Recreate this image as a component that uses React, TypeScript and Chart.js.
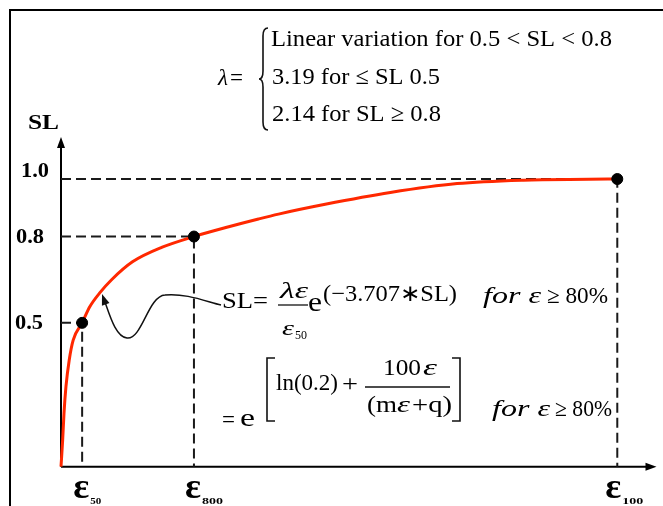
import React, { useEffect, useRef } from "react";
import { Chart, registerables } from "chart.js";
Chart.register(...registerables);

const SERIF = '"Liberation Serif", "Times New Roman", serif';

// Strain positions (as % of ε100) and their labels
const strainTicks = [3.8, 23.9, 100];
const strainSubs = ["50", "800", "100"];
// Stress level ticks
const slTicks = [0.5, 0.8, 1.0];
const slTickLabels = ["0.5", "0.8", "1.0"];

// Curve
const curveStrain = [0, 0.3, 0.54, 0.89, 1.48, 2.19, 3.8, 5.17, 6.96, 9.05, 12.85, 18.2, 23.9, 30.15, 35.5, 39.1, 47.5, 59.2, 71.2, 83.1, 94.9, 100];
const curveSL = [0, 0.093, 0.186, 0.278, 0.371, 0.44, 0.5, 0.556, 0.604, 0.649, 0.712, 0.763, 0.8, 0.834, 0.861, 0.878, 0.912, 0.953, 0.984, 0.996, 0.999, 1.0];

function fitText(ctx: CanvasRenderingContext2D, s: string, x: number, y: number, font: string, w?: number, baseline: CanvasTextBaseline = "middle") {
  ctx.save();
  ctx.font = font;
  ctx.textAlign = "left";
  ctx.textBaseline = baseline;
  ctx.fillStyle = "#000";
  const m = ctx.measureText(s).width;
  ctx.translate(x, y);
  if (w && m > 0) ctx.scale(w / m, 1);
  ctx.fillText(s, 0, 0);
  ctx.restore();
}

const decorPlugin = {
  id: "decor",
  beforeDatasetsDraw(chart: any) {
    const ctx: CanvasRenderingContext2D = chart.ctx;
    const xs = chart.scales.x;
    const ys = chart.scales.y;
    const x0 = xs.getPixelForValue(0);
    const y0 = ys.getPixelForValue(0);
    const top = chart.chartArea.top;
    const right = chart.chartArea.right;
    ctx.save();
    // frame
    ctx.strokeStyle = "#000";
    ctx.lineWidth = 2;
    ctx.beginPath();
    ctx.moveTo(10, 506);
    ctx.lineTo(10, 10);
    ctx.lineTo(663, 10);
    ctx.stroke();
    // axes
    ctx.lineWidth = 2;
    ctx.beginPath();
    ctx.moveTo(x0, y0);
    ctx.lineTo(x0, top + 8);
    ctx.moveTo(x0, y0);
    ctx.lineTo(right - 8, y0);
    ctx.stroke();
    ctx.fillStyle = "#000";
    ctx.beginPath();
    ctx.moveTo(x0, top);
    ctx.lineTo(x0 - 4, top + 11);
    ctx.lineTo(x0 + 4, top + 11);
    ctx.closePath();
    ctx.fill();
    ctx.beginPath();
    ctx.moveTo(right, y0);
    ctx.lineTo(right - 11, y0 - 4);
    ctx.lineTo(right - 11, y0 + 4);
    ctx.closePath();
    ctx.fill();
    ctx.restore();
  },
  afterDraw(chart: any) {
    const ctx: CanvasRenderingContext2D = chart.ctx;
    const xs = chart.scales.x;
    const ys = chart.scales.y;
    ctx.save();
    // y tick labels
    const yOff = [1, 1, -7];
    const yLeft = [15, 16, 21];
    slTicks.forEach((v, i) => {
      fitText(ctx, slTickLabels[i], yLeft[i], ys.getPixelForValue(v) + yOff[i], `bold 20px ${SERIF}`, 28);
    });
    fitText(ctx, "SL", 28, 123, `bold 22px ${SERIF}`, 31);
    // x tick labels
    strainTicks.forEach((t, i) => {
      const px = xs.getPixelForValue(t);
      const gx = px - (i === 2 ? 12 : 9);
      fitText(ctx, "ε", gx, 498, `bold 36px ${SERIF}`, 16, "alphabetic");
      fitText(ctx, strainSubs[i], gx + 17, 504, `bold 9px ${SERIF}`, i === 0 ? 11 : 21, "alphabetic");
    });

    // lambda definition
    fitText(ctx, "λ", 218, 79, `italic 24px ${SERIF}`, 10);
    fitText(ctx, "=", 230, 79, `24px ${SERIF}`, 13);
    fitText(ctx, "Linear variation for 0.5 < SL < 0.8", 271, 40, `24px ${SERIF}`, 341);
    fitText(ctx, "3.19 for ≤ SL 0.5", 272, 78, `24px ${SERIF}`, 168);
    fitText(ctx, "2.14 for SL ≥ 0.8", 272, 115, `24px ${SERIF}`, 169);
    ctx.strokeStyle = "#111";
    ctx.lineWidth = 1.6;
    ctx.beginPath();
    ctx.moveTo(268, 28);
    ctx.quadraticCurveTo(263, 28, 263, 36);
    ctx.lineTo(263, 71);
    ctx.quadraticCurveTo(263, 79, 259, 79);
    ctx.quadraticCurveTo(263, 79, 263, 87);
    ctx.lineTo(263, 122);
    ctx.quadraticCurveTo(263, 130, 268, 130);
    ctx.stroke();

    // formula 1
    fitText(ctx, "SL=", 222, 302, `23px ${SERIF}`, 46);
    fitText(ctx, "λε", 280, 292, `italic 23px ${SERIF}`, 28);
    ctx.lineWidth = 1.3;
    ctx.beginPath();
    ctx.moveTo(278, 305);
    ctx.lineTo(308, 305);
    ctx.stroke();
    fitText(ctx, "ε", 282, 329, `italic 21px ${SERIF}`, 12);
    fitText(ctx, "50", 295, 336, `13px ${SERIF}`, 12);
    fitText(ctx, "e", 308, 304, `27px ${SERIF}`, 14);
    fitText(ctx, "(−3.707∗SL)", 323, 295, `23px ${SERIF}`, 134);
    fitText(ctx, "for ε", 483, 297, `italic 23px ${SERIF}`, 58);
    fitText(ctx, "≥ 80%", 547, 297, `23px ${SERIF}`, 61);

    // formula 2
    fitText(ctx, "=", 222, 421, `23px ${SERIF}`, 13);
    fitText(ctx, "e", 240, 419, `26px ${SERIF}`, 15);
    ctx.lineWidth = 1.6;
    ctx.beginPath();
    ctx.moveTo(275, 358);
    ctx.lineTo(267, 358);
    ctx.lineTo(267, 421);
    ctx.lineTo(275, 421);
    ctx.moveTo(452, 358);
    ctx.lineTo(460, 358);
    ctx.lineTo(460, 421);
    ctx.lineTo(452, 421);
    ctx.stroke();
    fitText(ctx, "ln(0.2)", 276, 384, `23px ${SERIF}`, 62);
    fitText(ctx, "+", 342, 385, `23px ${SERIF}`, 16);
    fitText(ctx, "100", 383, 369, `23px ${SERIF}`, 38);
    fitText(ctx, "ε", 423, 369, `italic 23px ${SERIF}`, 14);
    ctx.lineWidth = 1.3;
    ctx.beginPath();
    ctx.moveTo(365, 387);
    ctx.lineTo(450, 387);
    ctx.stroke();
    fitText(ctx, "(m", 367, 406, `23px ${SERIF}`, 30);
    fitText(ctx, "ε", 397, 406, `italic 23px ${SERIF}`, 13);
    fitText(ctx, "+q)", 412, 406, `23px ${SERIF}`, 40);
    fitText(ctx, "for ε", 492, 410, `italic 23px ${SERIF}`, 58);
    fitText(ctx, "≥ 80%", 555, 410, `23px ${SERIF}`, 57);

    // wavy pointer arrow
    ctx.strokeStyle = "#111";
    ctx.lineWidth = 1.5;
    ctx.beginPath();
    ctx.moveTo(221, 305);
    ctx.bezierCurveTo(205, 301, 185, 293, 165, 295);
    ctx.bezierCurveTo(148, 296, 142, 340, 127, 338);
    ctx.bezierCurveTo(116, 337, 110, 316, 105, 302);
    ctx.stroke();
    const tipX = 102, tipY = 294;
    const dx = tipX - 107, dy = tipY - 308;
    const len = Math.hypot(dx, dy);
    const ux = dx / len, uy = dy / len;
    const bx = tipX - ux * 11, by = tipY - uy * 11;
    ctx.fillStyle = "#111";
    ctx.beginPath();
    ctx.moveTo(tipX, tipY);
    ctx.lineTo(bx - uy * 4, by + ux * 4);
    ctx.lineTo(bx + uy * 4, by - ux * 4);
    ctx.closePath();
    ctx.fill();
    ctx.restore();
  },
};

export default function App() {
  const ref = useRef<HTMLCanvasElement>(null);
  useEffect(() => {
    if (!ref.current) return;
    const curve = curveStrain.map((x, i) => ({ x, y: curveSL[i] }));
    const guides = strainTicks.map((t, i) => ({
      label: "guide" + i,
      data: [
        { x: 0, y: slTicks[i] },
        { x: t, y: slTicks[i] },
        { x: t, y: 0 },
      ],
      showLine: true,
      borderColor: "#1a1a1a",
      borderWidth: 2,
      borderDash: [10, 5],
      pointRadius: 0,
      tension: 0,
      clip: false,
      order: 2,
    }));
    const chart = new Chart(ref.current, {
      type: "scatter",
      data: {
        datasets: [
          {
            label: "points",
            data: strainTicks.map((x, i) => ({ x, y: slTicks[i] })),
            showLine: false,
            pointRadius: 5.5,
            pointBackgroundColor: "#000",
            pointBorderColor: "#000",
            clip: false,
            order: 0,
          } as any,
          {
            label: "SL",
            data: curve,
            showLine: true,
            borderColor: "rgb(255,40,0)",
            borderWidth: 3,
            pointRadius: 0,
            cubicInterpolationMode: "monotone",
            clip: false,
            order: 1,
          },
          ...guides,
        ],
      },
      options: {
        animation: false,
        responsive: false,
        devicePixelRatio: 1,
        layout: { padding: { left: 61, top: 137, right: 2, bottom: 39.3 } },
        scales: {
          x: { type: "linear", min: 0, max: 107.05, display: false },
          y: { type: "linear", min: 0, max: 1.146, display: false },
        },
        plugins: { legend: { display: false }, tooltip: { enabled: false } },
      },
      plugins: [decorPlugin],
    });
    return () => chart.destroy();
  }, []);
  return (
    <div style={{ position: "fixed", left: 0, top: 0, width: 663, height: 506, background: "#fff" }}>
      <canvas ref={ref} width={663} height={506} style={{ width: 663, height: 506, display: "block" }} />
    </div>
  );
}
